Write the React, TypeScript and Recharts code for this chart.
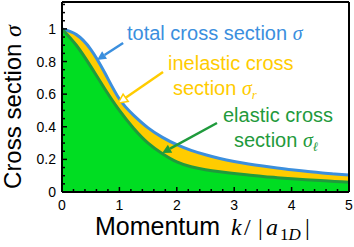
import { ComposedChart, Area, XAxis, YAxis, ReferenceLine } from "recharts";

const momentum = [0, 0.25, 0.5, 0.75, 1, 1.25, 1.5, 1.75, 2, 2.25, 2.5, 2.75, 3, 3.25, 3.5, 3.75, 4, 4.25, 4.5, 4.75, 5];
const totalSigma = [1.0, 0.965, 0.875, 0.728, 0.57, 0.47, 0.393, 0.335, 0.29, 0.255, 0.228, 0.205, 0.187, 0.172, 0.159, 0.147, 0.136, 0.127, 0.118, 0.111, 0.104];
const elasticSigma = [1.0, 0.9, 0.77, 0.63, 0.5, 0.39, 0.3, 0.235, 0.185, 0.155, 0.137, 0.124, 0.113, 0.104, 0.095, 0.088, 0.081, 0.075, 0.07, 0.065, 0.06];

const xMajor = [0, 1, 2, 3, 4, 5];
const xMinor = [0.2, 0.4, 0.6, 0.8, 1.2, 1.4, 1.6, 1.8, 2.2, 2.4, 2.6, 2.8, 3.2, 3.4, 3.6, 3.8, 4.2, 4.4, 4.6, 4.8];
const yMajor = [0, 0.2, 0.4, 0.6, 0.8, 1];
const yMinor = [0.05, 0.1, 0.15, 0.25, 0.3, 0.35, 0.45, 0.5, 0.55, 0.65, 0.7, 0.75, 0.85, 0.9, 0.95, 1.05, 1.1, 1.15];
const yMax = 1.165;

const BLUE = "#3b8fde";
const YELLOW = "#ffcc00";
const GREEN = "#00dd22";
const DARK_GREEN = "#1f9a3c";
const SANS = "'Liberation Sans', Arial, Helvetica, sans-serif";
const MATH = "'Liberation Serif', 'DejaVu Serif', serif";

const rows = momentum.map((k, i) => ({ k, total: totalSigma[i], elastic: elasticSigma[i] }));

function XTick(props: any) {
  const { x, y, payload } = props;
  const major = xMajor.includes(payload.value);
  return (
    <g>
      <line x1={x} x2={x} y1={y} y2={y - (major ? 5 : 3)} stroke="#000" strokeWidth={1.5} />
      {major && (
        <text x={x} y={y + 18} textAnchor="middle" fontSize={14} fontFamily={SANS} fill="#000">
          {payload.value}
        </text>
      )}
    </g>
  );
}

function YTick(props: any) {
  const { x, y, payload } = props;
  const major = yMajor.includes(payload.value);
  return (
    <g>
      <line x1={x} x2={x + (major ? 5 : 3)} y1={y} y2={y} stroke="#000" strokeWidth={1.5} />
      {major && (
        <text x={x - 6} y={y + 5} textAnchor="end" fontSize={14} fontFamily={SANS} fill="#000">
          {payload.value}
        </text>
      )}
    </g>
  );
}

// arrow from first segment point (tail) to second (tip)
const arrow = (color: string, hollow: boolean) => (props: any) => {
  const { x1, y1, x2, y2 } = props;
  const dx = x2 - x1;
  const dy = y2 - y1;
  const len = Math.hypot(dx, dy) || 1;
  const ux = dx / len;
  const uy = dy / len;
  const hl = 9;
  const hw = 4.5;
  const bx = x2 - ux * hl;
  const by = y2 - uy * hl;
  const pts = `${x2},${y2} ${bx - uy * hw},${by + ux * hw} ${bx + uy * hw},${by - ux * hw}`;
  return (
    <g>
      <line x1={x1} y1={y1} x2={bx} y2={by} stroke={color} strokeWidth={2.5} />
      <polygon points={pts} fill={hollow ? "#fff" : color} stroke={color} strokeWidth={hollow ? 1.5 : 0} />
    </g>
  );
};

export default function App() {
  return (
    <div style={{ position: "absolute", left: 0, top: 0, width: 354, height: 247, background: "#fff" }}>
      <ComposedChart width={354} height={247} data={rows} margin={{ top: 2, right: 5, left: 0, bottom: 0 }}>
        <Area
          type="natural"
          dataKey="total"
          stroke={BLUE}
          strokeWidth={3}
          fill={YELLOW}
          fillOpacity={1}
          dot={false}
          activeDot={false}
          isAnimationActive={false}
        />
        <Area
          type="natural"
          dataKey="elastic"
          stroke={DARK_GREEN}
          strokeWidth={3}
          fill={GREEN}
          fillOpacity={1}
          dot={false}
          activeDot={false}
          isAnimationActive={false}
        />
        <XAxis
          dataKey="k"
          type="number"
          domain={[0, 5]}
          ticks={[...xMajor, ...xMinor]}
          tick={<XTick />}
          tickSize={0}
          tickMargin={0}
          tickLine={false}
          axisLine={{ stroke: "#000", strokeWidth: 2 }}
          height={55}
          interval={0}
        />
        <YAxis
          type="number"
          domain={[0, yMax]}
          ticks={[...yMajor, ...yMinor]}
          tick={<YTick />}
          tickSize={0}
          tickMargin={0}
          tickLine={false}
          axisLine={{ stroke: "#000", strokeWidth: 2 }}
          width={62}
          interval={0}
        />
        <ReferenceLine y={yMax} stroke="#000" strokeWidth={2} />
        <ReferenceLine x={5} stroke="#000" strokeWidth={2} />
        <ReferenceLine segment={[{ x: 1.065, y: 0.914 }, { x: 0.61, y: 0.81 }]} shape={arrow(BLUE, false)} />
        <ReferenceLine segment={[{ x: 1.76, y: 0.736 }, { x: 0.98, y: 0.546 }]} shape={arrow(YELLOW, true)} />
        <ReferenceLine segment={[{ x: 2.7, y: 0.423 }, { x: 1.745, y: 0.239 }]} shape={arrow(DARK_GREEN, false)} />
      </ComposedChart>
      <svg width={354} height={247} style={{ position: "absolute", left: 0, top: 0, pointerEvents: "none" }}>
        <text x={127} y={40} fontSize={20} fontFamily={SANS} fill={BLUE}>
          total cross section <tspan fontFamily={MATH} fontStyle="italic">σ</tspan>
        </text>
        <text x={168} y={70} fontSize={20} fontFamily={SANS} fill={YELLOW}>
          inelastic cross
        </text>
        <text x={173} y={95} fontSize={20} fontFamily={SANS} fill={YELLOW}>
          section <tspan fontFamily={MATH} fontStyle="italic">σ</tspan>
          <tspan fontFamily={MATH} fontStyle="italic" fontSize={13} dy={4}>r</tspan>
        </text>
        <text x={223} y={122} fontSize={20} fontFamily={SANS} fill={DARK_GREEN}>
          elastic cross
        </text>
        <text x={234} y={147} fontSize={20} fontFamily={SANS} fill={DARK_GREEN}>
          section <tspan fontFamily={MATH} fontStyle="italic">σ</tspan>
          <tspan fontFamily={MATH} fontStyle="italic" fontSize={13} dy={4}>ℓ</tspan>
        </text>
        <text transform="translate(21,107) rotate(-90)" textAnchor="middle" fontSize={24} fontFamily={SANS} fill="#000">
          Cross section <tspan fontFamily={MATH} fontStyle="italic">σ</tspan>
        </text>
        <text y={235} fontSize={24} fontFamily={MATH} fill="#000">
          <tspan x={95} fontFamily={SANS} fontSize={25}>Momentum</tspan>
          <tspan x={231} fontStyle="italic">k</tspan>
          <tspan x={244}>/</tspan>
          <tspan x={258}>|</tspan>
          <tspan x={266} fontStyle="italic">a</tspan>
          <tspan x={280} fontSize={17} dy={5}>1</tspan>
          <tspan fontSize={17} fontStyle="italic">D</tspan>
          <tspan x={305} dy={-5}>|</tspan>
        </text>
      </svg>
    </div>
  );
}
